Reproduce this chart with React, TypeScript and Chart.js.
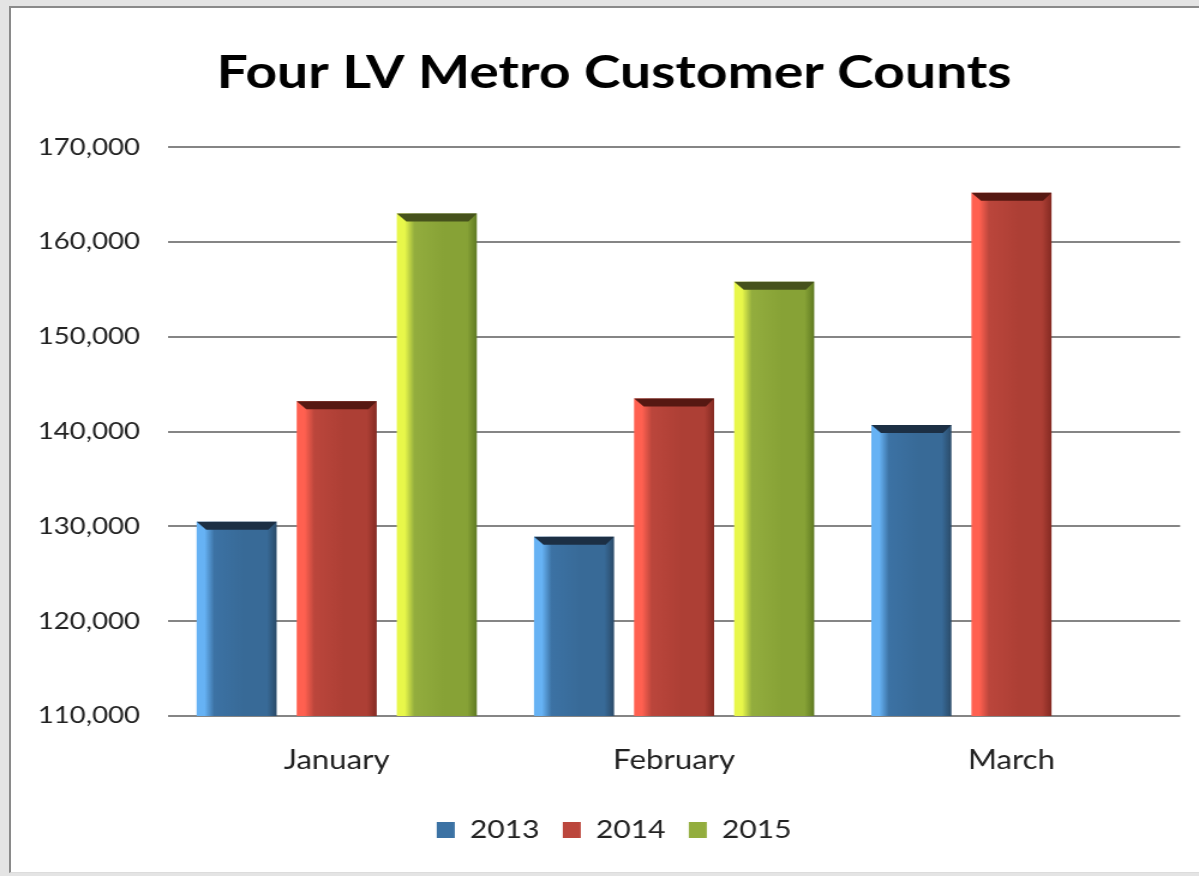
import React, { useEffect, useRef } from "react";
import { Chart, registerables } from "chart.js";

Chart.register(...registerables);

const TITLE = "Four LV Metro Customer Counts";
const categories = ["January", "February", "March"];
const seriesNames = ["2013", "2014", "2015"];
const values2013 = [130500, 128900, 140700];
const values2014 = [143200, 143500, 165200];
const values2015: (number | null)[] = [163000, 155800, null];
const yMin = 110000;
const yMax = 170000;
const yStep = 10000;

// The reference picture is horizontally stretched; draw on a narrower canvas and stretch it.
const STRETCH = 1.2;
const PAGE_W = 1199;
const PAGE_H = 876;
const CANVAS_W = Math.round(PAGE_W / STRETCH);

const palettes = [
  { light: "#66b2f4", body: "#3c72a4", mid: "#386a97", dark: "#2a4a68", cap: "#1c2f44" },
  { light: "#ff6050", body: "#bb463c", mid: "#ad3f35", dark: "#842a22", cap: "#561812" },
  { light: "#e8f74a", body: "#93ad3e", mid: "#87a236", dark: "#5f7a22", cap: "#46521c" },
];

const FONT = "Lato, 'Open Sans', 'DejaVu Sans', sans-serif";

const isMissing = (chart: any, di: number, i: number) => chart.data.datasets[di].data[i] == null;

const barStyle = {
  id: "barStyle",
  beforeDatasetsDraw(chart: any) {
    const ctx = chart.ctx;
    chart.data.datasets.forEach((_ds: any, di: number) => {
      const meta = chart.getDatasetMeta(di);
      const pal = palettes[di];
      meta.data.forEach((el: any, i: number) => {
        if (isMissing(chart, di, i)) return;
        const { x, width } = el.getProps(["x", "width"], true);
        if (!isFinite(x) || !isFinite(width)) return;
        const g = ctx.createLinearGradient(x - width / 2, 0, x + width / 2, 0);
        g.addColorStop(0, pal.light);
        g.addColorStop(0.1, pal.light);
        g.addColorStop(0.22, pal.body);
        g.addColorStop(0.6, pal.mid);
        g.addColorStop(0.88, pal.mid);
        g.addColorStop(1, pal.dark);
        el.options = { ...el.options, backgroundColor: g };
      });
    });
  },
  afterDatasetsDraw(chart: any) {
    const ctx = chart.ctx;
    chart.data.datasets.forEach((_ds: any, di: number) => {
      const meta = chart.getDatasetMeta(di);
      const pal = palettes[di];
      meta.data.forEach((el: any, i: number) => {
        if (isMissing(chart, di, i)) return;
        const { x, y, width } = el.getProps(["x", "y", "width"], true);
        if (!isFinite(x) || !isFinite(y)) return;
        const l = x - width / 2;
        const r = x + width / 2;
        ctx.save();
        ctx.fillStyle = pal.cap;
        ctx.beginPath();
        ctx.moveTo(l, y);
        ctx.lineTo(r, y);
        ctx.lineTo(r - 7, y + 8);
        ctx.lineTo(l + 8, y + 8);
        ctx.closePath();
        ctx.fill();
        ctx.restore();
      });
    });
  },
};

export default function App() {
  const ref = useRef<HTMLCanvasElement>(null);
  useEffect(() => {
    if (!ref.current) return;
    const series = [values2013, values2014, values2015];
    const chart = new Chart(ref.current, {
      type: "bar",
      data: {
        labels: categories,
        datasets: series.map((vals, i) => ({
          label: seriesNames[i],
          data: vals,
          backgroundColor: palettes[i].body,
          borderWidth: 0,
          categoryPercentage: 0.89,
          barPercentage: 0.8,
        })),
      },
      options: {
        responsive: false,
        animation: false,
        devicePixelRatio: 1,
        layout: { padding: { left: 40, right: 15.7, top: 0, bottom: 23.5 } },
        plugins: {
          title: {
            display: true,
            text: TITLE,
            color: "#000",
            font: { family: FONT, size: 46, weight: "bold" },
            padding: { top: 46, bottom: 46 },
          },
          legend: {
            display: true,
            position: "bottom",
            labels: {
              color: "#222",
              font: { family: FONT, size: 25 },
              boxWidth: 15,
              boxHeight: 16,
              padding: 19.5,
            },
          },
          tooltip: { enabled: false },
        },
        scales: {
          x: {
            grid: { display: false, drawTicks: false },
            border: { display: false },
            ticks: { color: "#222", font: { family: FONT, size: 26 }, padding: 29 },
            afterFit: (s: any) => {
              s.height = 82;
            },
          },
          y: {
            min: yMin,
            max: yMax,
            grid: { color: "#858585", lineWidth: 2, drawTicks: false },
            border: { display: false },
            ticks: {
              stepSize: yStep,
              color: "#222",
              font: { family: FONT, size: 23 },
              padding: 23.3,
              callback: (v: any) => Number(v).toLocaleString("en-US"),
            },
            afterFit: (s: any) => {
              s.width = 100;
              s._computeLabelArea = () => undefined;
            },
          },
        },
      },
      plugins: [barStyle],
    });
    return () => chart.destroy();
  }, []);

  return (
    <div
      style={{
        position: "fixed",
        left: 0,
        top: 0,
        width: PAGE_W,
        height: PAGE_H,
        background: "#e4e4e4",
        overflow: "hidden",
      }}
    >
      <div
        style={{
          position: "absolute",
          left: 9,
          top: 6,
          right: 0,
          bottom: 3,
          background: "#fff",
          borderLeft: "2px solid #8a8a8a",
          borderTop: "2px solid #8a8a8a",
          borderBottom: "1px solid #dcdcdc",
        }}
      />
      <canvas
        ref={ref}
        width={CANVAS_W}
        height={PAGE_H}
        style={{
          position: "absolute",
          left: 0,
          top: 0,
          width: CANVAS_W,
          height: PAGE_H,
          transform: `scaleX(${PAGE_W / CANVAS_W})`,
          transformOrigin: "0 0",
        }}
      />
    </div>
  );
}
